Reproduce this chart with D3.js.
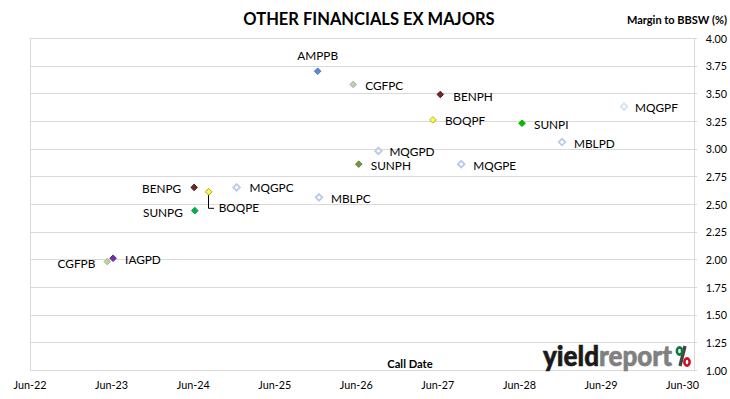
<!DOCTYPE html>
<html lang="en">
<head>
    <meta charset="UTF-8">
    <title>Other Financials ex Majors</title>
    <script src="https://d3js.org/d3.v7.min.js"></script>
    <style>
        body { margin: 0; background: #fff; }
        svg text { font-family: Lato, "Open Sans", sans-serif; fill: #000; }
        .grid line { stroke: #d9d9d9; stroke-width: 1px; }
        .lbl { font-size: 11.8px; }
        .tick-lbl { font-size: 10.8px; }
    </style>
</head>
<body>
<div id="chart"></div>
<script>
    // securities, call dates and margins
    var names = ["AMPPB", "CGFPC", "BENPH", "BOQPF", "SUNPI", "MQGPF", "MBLPD", "MQGPD", "SUNPH",
                 "MQGPE", "MBLPC", "MQGPC", "BENPG", "BOQPE", "SUNPG", "CGFPB", "IAGPD"];
    var callDates = ["2025-12-24", "2026-06-01", "2027-06-26", "2027-05-24", "2028-06-26", "2029-09-26",
                     "2028-12-22", "2026-09-22", "2026-06-26", "2027-09-28", "2025-12-30", "2024-12-26",
                     "2024-06-19", "2024-08-23", "2024-06-22", "2023-05-27", "2023-06-22"];
    var margins = [3.70, 3.58, 3.49, 3.26, 3.23, 3.38, 3.06, 2.98, 2.86, 2.86, 2.56, 2.65, 2.65, 2.61, 2.44, 1.98, 2.01];
    var yTicks = [1.00, 1.25, 1.50, 1.75, 2.00, 2.25, 2.50, 2.75, 3.00, 3.25, 3.50, 3.75, 4.00];
    var xTickYears = [2022, 2023, 2024, 2025, 2026, 2027, 2028, 2029, 2030];

    // marker look per security: fill, stroke
    var markerStyle = {
        AMPPB: ["#5a8ad3", "#4a7cc4"], CGFPC: ["#c4d38a", "#8fb3e0"], CGFPB: ["#c9d46a", "#8fb3e0"],
        BENPH: ["#6b2a2a", "#5a2020"], BENPG: ["#6b2a2a", "#5a2020"],
        BOQPF: ["#ffff33", "#b0b040"], BOQPE: ["#ffff33", "#a0a030"],
        SUNPI: ["#00c000", "#00a800"], SUNPG: ["#00b050", "#00a048"], SUNPH: ["#77933c", "#6a8535"],
        IAGPD: ["#7030a0", "#6a2a98"],
        MQGPF: ["#ffffff", "#d5e0f0"], MQGPE: ["#ffffff", "#b9c9e8"], MQGPD: ["#ffffff", "#b9c9e8"],
        MQGPC: ["#ffffff", "#b9c9e8"], MBLPD: ["#ffffff", "#b9c9e8"], MBLPC: ["#ffffff", "#b9c9e8"]
    };
    // label placement: anchor, dx, dy
    var labelPos = {
        AMPPB: ["middle", 0, -16], CGFPC: ["start", 12, 1], BENPH: ["start", 13, 2], BOQPF: ["start", 12, 1],
        SUNPI: ["start", 12, 1], MQGPF: ["start", 11, 1], MBLPD: ["start", 12, 1], MQGPD: ["start", 11, 1],
        SUNPH: ["start", 12, 1], MQGPE: ["start", 12, 1], MBLPC: ["start", 12, 1], MQGPC: ["start", 13, 0],
        BENPG: ["end", -13, 1], BOQPE: ["start", 10, 16], SUNPG: ["end", -12, 2], CGFPB: ["end", -12, 2],
        IAGPD: ["start", 12, 1]
    };

    var data = names.map(function(n, i) {
        return {name: n, date: d3.timeParse("%Y-%m-%d")(callDates[i]), margin: margins[i]};
    });

    var W = 730, H = 399;
    var plot = {left: 30, right: 694, top: 38, bottom: 370};

    var svg = d3.select("#chart").append("svg")
        .attr("width", W)
        .attr("height", H);

    var x = d3.scaleTime()
        .domain([new Date(2022, 5, 15), new Date(2030, 7, 5)])
        .range([plot.left, plot.right]);

    var y = d3.scaleLinear()
        .domain([1, 4])
        .range([plot.bottom, plot.top]);

    // gridlines
    var grid = svg.append("g").attr("class", "grid");
    grid.selectAll("line.h")
        .data(yTicks)
        .enter()
        .append("line")
        .attr("x1", plot.left)
        .attr("x2", plot.right + 3)
        .attr("y1", function(d) { return Math.round(y(d)) + 0.5; })
        .attr("y2", function(d) { return Math.round(y(d)) + 0.5; });
    grid.append("line")
        .attr("x1", plot.left + 0.5).attr("x2", plot.left + 0.5)
        .attr("y1", plot.top).attr("y2", plot.bottom);
    grid.append("line")
        .attr("x1", plot.right + 0.5).attr("x2", plot.right + 0.5)
        .attr("y1", plot.top).attr("y2", plot.bottom);

    // right axis labels
    svg.append("g")
        .selectAll("text")
        .data(yTicks)
        .enter()
        .append("text")
        .attr("class", "tick-lbl")
        .attr("x", 727)
        .attr("y", function(d) { return y(d); })
        .attr("text-anchor", "end")
        .attr("dominant-baseline", "central")
        .text(function(d) { return d3.format(".2f")(d); });

    // bottom axis labels
    svg.append("g")
        .selectAll("text")
        .data(xTickYears)
        .enter()
        .append("text")
        .attr("class", "tick-lbl")
        .attr("x", function(d) { return x(new Date(d, 5, 15)); })
        .attr("y", 384)
        .attr("text-anchor", "middle")
        .attr("dominant-baseline", "central")
        .text(function(d) { return d3.timeFormat("%b-%y")(new Date(d, 5, 15)); });

    // titles
    svg.append("text")
        .attr("x", 369).attr("y", 19)
        .attr("text-anchor", "middle")
        .attr("dominant-baseline", "central")
        .style("font-size", "16.5px")
        .style("font-weight", "bold")
        .text("OTHER FINANCIALS EX MAJORS");
    svg.append("text")
        .attr("x", 727).attr("y", 19)
        .attr("text-anchor", "end")
        .attr("dominant-baseline", "central")
        .style("font-size", "11px")
        .style("font-weight", "bold")
        .text("Margin to BBSW (%)");
    svg.append("text")
        .attr("x", 410).attr("y", 363)
        .attr("text-anchor", "middle")
        .attr("dominant-baseline", "central")
        .style("font-size", "11.2px")
        .style("font-weight", "bold")
        .text("Call Date");

    // logo
    var logo = svg.append("g").attr("transform", "translate(543,366)");
    var lt = logo.append("text")
        .attr("textLength", 129)
        .attr("lengthAdjust", "spacingAndGlyphs")
        .style("font-size", "28px")
        .style("font-weight", "900");
    lt.append("tspan").style("fill", "#1a1a1a").style("stroke", "#1a1a1a").style("stroke-width", 0.6).text("yield");
    lt.append("tspan").style("fill", "#808080").style("stroke", "#808080").style("stroke-width", 0.6).text("report");
    logo.append("line")
        .attr("x1", 137).attr("y1", 0).attr("x2", 142).attr("y2", -20)
        .style("stroke", "#444").style("stroke-width", 3.4);
    logo.append("ellipse")
        .attr("cx", 136.5).attr("cy", -15).attr("rx", 2.6).attr("ry", 3.6)
        .style("fill", "none").style("stroke", "#0a7a3a").style("stroke-width", 2.6);
    logo.append("ellipse")
        .attr("cx", 144).attr("cy", -4).attr("rx", 2.6).attr("ry", 3.6)
        .style("fill", "none").style("stroke", "#cc1122").style("stroke-width", 2.6);

    // BOQPE leader line
    var boq = data.filter(function(d) { return d.name === "BOQPE"; })[0];
    var bx = Math.round(x(boq.date)), by = y(boq.margin);
    svg.append("path")
        .attr("d", "M" + (bx - 0.5) + "," + (by + 3) + "V" + (by + 16.5) + "H" + (bx + 5))
        .style("fill", "none")
        .style("stroke", "#000")
        .style("stroke-width", 1);

    // markers
    var diamond = "M0,-3.3L3.3,0L0,3.3L-3.3,0Z";
    svg.append("g")
        .selectAll("path")
        .data(data)
        .enter()
        .append("path")
        .attr("d", diamond)
        .attr("transform", function(d) { return "translate(" + x(d.date) + "," + y(d.margin) + ")"; })
        .style("fill", function(d) { return markerStyle[d.name][0]; })
        .style("stroke", function(d) { return markerStyle[d.name][1]; })
        .style("stroke-width", function(d) { return markerStyle[d.name][0] === "#ffffff" ? 1.8 : 1; });

    // labels
    svg.append("g")
        .selectAll("text")
        .data(data)
        .enter()
        .append("text")
        .attr("class", "lbl")
        .attr("x", function(d) { return x(d.date) + labelPos[d.name][1]; })
        .attr("y", function(d) { return y(d.margin) + labelPos[d.name][2]; })
        .attr("text-anchor", function(d) { return labelPos[d.name][0]; })
        .attr("dominant-baseline", "central")
        .text(function(d) { return d.name; });
</script>
</body>
</html>
